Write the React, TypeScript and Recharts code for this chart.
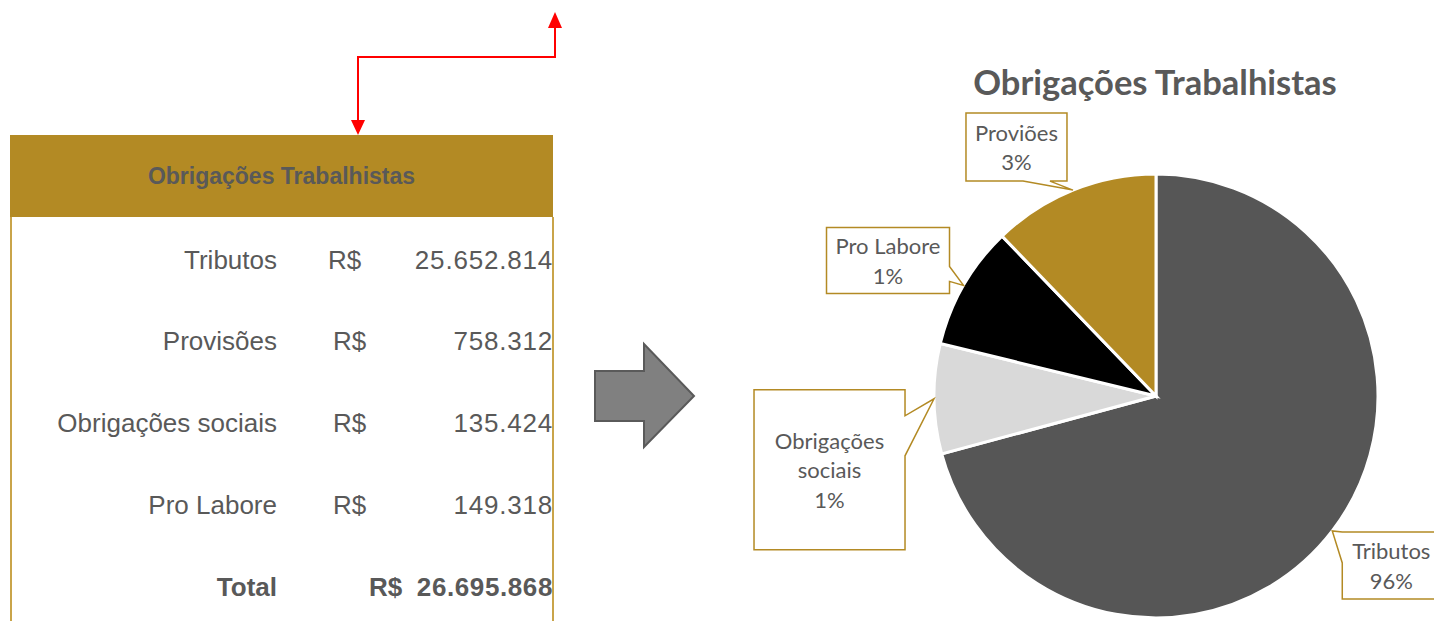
import { PieChart, Pie, Cell } from "recharts"

// table on the left
const tableItems = ["Tributos", "Provisões", "Obrigações sociais", "Pro Labore"]
const tableValues = [25652814, 758312, 135424, 149318]
const tableTotal = 26695868

// pie on the right (clockwise from 12 o'clock)
const pieNames = ["Tributos", "Obrigações sociais", "Pro Labore", "Proviões"]
const pieShares = [70.8, 8.0, 9.0, 12.2]
const piePercents = ["96%", "1%", "1%", "3%"]
const pieColors = ["#565656", "#D9D9D9", "#000000", "#B38A24"]

const GOLD = "#B38A24"
const TEXT = "#595959"
const RADIAN = Math.PI / 180

// callout boxes, relative to the tip on the slice edge
const callouts = [
  { dx: 10, dy: 1, w: 98, h: 67, side: "left", a: 0, b: 31, lines: ["Tributos"] },
  { dx: -180, dy: -9, w: 151, h: 160, side: "right", a: 26, b: 66, lines: ["Obrigações", "sociais"] },
  { dx: -137, dy: -58, w: 123, h: 66, side: "right", a: 39, b: 54, lines: ["Pro Labore"] },
  { dx: -107, dy: -77, w: 101, h: 68, side: "bottom", a: 57, b: 84, lines: ["Proviões"] },
]

const fmt = (n: number) => String(n).replace(/\B(?=(\d{3})+(?!\d))/g, ".")

const pieData = pieNames.map((name, i) => ({ name, value: pieShares[i], pct: piePercents[i] }))

function calloutPath(x: number, y: number, w: number, h: number, side: string, a: number, b: number, tx: number, ty: number) {
  const p: number[][] = [[x, y]]
  if (side === "top") p.push([x + a, y], [tx, ty], [x + b, y])
  p.push([x + w, y])
  if (side === "right") p.push([x + w, y + a], [tx, ty], [x + w, y + b])
  p.push([x + w, y + h])
  if (side === "bottom") p.push([x + b, y + h], [tx, ty], [x + a, y + h])
  p.push([x, y + h])
  if (side === "left") p.push([x, y + b], [tx, ty], [x, y + a])
  return "M" + p.map((q) => q.join(" ")).join(" L") + " Z"
}

const renderCallout = (props: any) => {
  const { cx, cy, midAngle, outerRadius, index } = props
  const c = callouts[index]
  const tx = cx + outerRadius * Math.cos(-midAngle * RADIAN)
  const ty = cy + outerRadius * Math.sin(-midAngle * RADIAN)
  const x = tx + c.dx
  const y = ty + c.dy
  const lines = [...c.lines, pieData[index].pct]
  const lh = 29.5
  const y0 = y + c.h / 2 - ((lines.length - 1) * lh) / 2
  return (
    <g key={"callout-" + index}>
      <path d={calloutPath(x, y, c.w, c.h, c.side, c.a, c.b, tx, ty)} fill="#fff" stroke={GOLD} strokeWidth={1.5} />
      <text x={x + c.w / 2} textAnchor="middle" fill={TEXT} fontFamily="Lato, 'Open Sans', sans-serif" fontSize={22}>
        {lines.map((l, i) => (
          <tspan key={i} x={x + c.w / 2} y={y0 + i * lh} dominantBaseline="central">{l}</tspan>
        ))}
      </text>
    </g>
  )
}

const rowCenters = [260, 341, 423, 505]

const App = () => {
  return (
    <div style={{ position: "absolute", left: 0, top: 0, width: 1434, height: 621, overflow: "hidden", background: "#fff" }}>
      {/* connector + big arrow */}
      <svg width={1434} height={621} style={{ position: "absolute", left: 0, top: 0 }}>
        <path d="M358 120 V57 H555 V28" fill="none" stroke="#FF0000" strokeWidth={2} />
        <polygon points="548,28 562,28 555,12" fill="#FF0000" />
        <polygon points="351,120 365,120 358,135" fill="#FF0000" />
        <polygon points="595,371 644,371 644,344 694,396 644,447 644,421 595,421" fill="#808080" stroke="#5A5A5A" strokeWidth={2} />
      </svg>

      {/* table */}
      <div style={{ position: "absolute", left: 10, top: 135, width: 543, height: 82, background: GOLD, display: "flex", alignItems: "center", justifyContent: "center", color: TEXT, fontFamily: "'Liberation Sans', sans-serif", fontWeight: 700, fontSize: 23 }}>
        Obrigações Trabalhistas
      </div>
      <div style={{ position: "absolute", left: 10, top: 217, width: 1.5, height: 404, background: "#C9A44A" }} />
      <div style={{ position: "absolute", left: 552, top: 217, width: 1.5, height: 404, background: "#C9A44A" }} />
      {tableItems.map((item, i) => (
        <div key={item} style={{ position: "absolute", left: 0, top: rowCenters[i] - 15, width: 1434, height: 30, lineHeight: "30px", fontFamily: "'Liberation Sans', Arial, sans-serif", fontSize: 26, color: TEXT }}>
          <span style={{ position: "absolute", right: 1434 - 277 }}>{item}</span>
          <span style={{ position: "absolute", left: i === 0 ? 328 : 333 }}>R$</span>
          <span style={{ position: "absolute", right: 1434 - 553, letterSpacing: 0.8 }}>{fmt(tableValues[i])}</span>
        </div>
      ))}
      <div style={{ position: "absolute", left: 0, top: 587 - 15, width: 1434, height: 30, lineHeight: "30px", fontFamily: "'Liberation Sans', sans-serif", fontWeight: 700, fontSize: 26, color: TEXT }}>
        <span style={{ position: "absolute", right: 1434 - 277 }}>Total</span>
        <span style={{ position: "absolute", left: 369 }}>R$</span>
        <span style={{ position: "absolute", right: 1434 - 553, letterSpacing: 0.6 }}>{fmt(tableTotal)}</span>
      </div>

      {/* pie */}
      <div style={{ position: "absolute", left: 720, top: 62, width: 714, fontFamily: "Lato, sans-serif", fontWeight: 700, fontSize: 34.5, lineHeight: "40px", color: TEXT }}>
        <span style={{ position: "absolute", left: 435, transform: "translateX(-50%)", whiteSpace: "nowrap" }}>Obrigações Trabalhistas</span>
      </div>
      <div style={{ position: "absolute", left: 720, top: 0 }}>
        <PieChart width={714} height={621} margin={{ top: 0, right: 0, bottom: 0, left: 0 }}>
          <Pie
            data={pieData}
            dataKey="value"
            nameKey="name"
            cx={436}
            cy={396}
            outerRadius={222}
            startAngle={90}
            endAngle={-270}
            stroke="#fff"
            strokeWidth={3}
            label={renderCallout}
            labelLine={false}
            isAnimationActive={false}
          >
            {pieData.map((d, i) => (
              <Cell key={d.name} fill={pieColors[i]} />
            ))}
          </Pie>
        </PieChart>
      </div>
    </div>
  )
}

export default App
